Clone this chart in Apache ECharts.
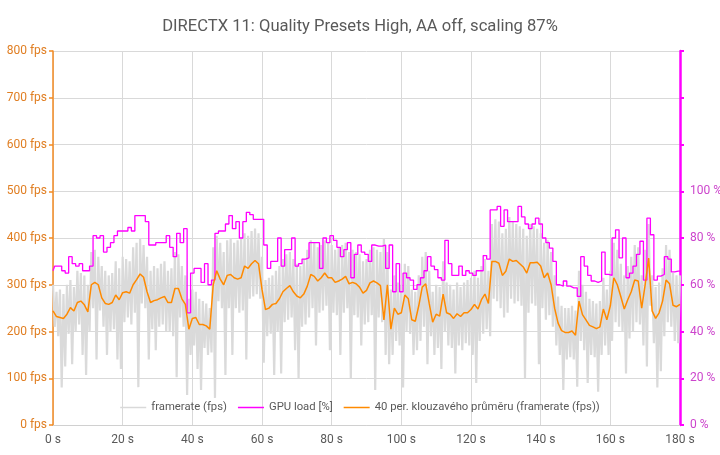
<!DOCTYPE html>
<html><head><meta charset="utf-8">
<script src="https://cdn.jsdelivr.net/npm/echarts@6/dist/echarts.min.js"></script>
<style>html,body{margin:0;padding:0;background:#fff}#c{width:720px;height:455px}</style>
</head><body><div id="c"></div>
<script>
const chartTitle = 'DIRECTX 11: Quality Presets High, AA off, scaling 87%';
const seriesNames = ['framerate (fps)', 'GPU load [%]', '40 per. klouzavého průměru (framerate (fps))'];
const xTickValues = [0, 20, 40, 60, 80, 100, 120, 140, 160, 180];
const fpsTicks = [0, 100, 200, 300, 400, 500, 600, 700, 800];
const gpuTicks = [0, 20, 40, 60, 80, 100];

// framerate samples every 0.5 s
const framerateStep = 0.5;
const framerate = [
300,210, 285,190, 290,80, 280,125, 300,195, 310,130, 295,200, 330,215, 325,150, 320,107,
300,200, 370,250, 375,140, 360,245, 340,210, 330,150, 320,200, 325,205, 350,140, 335,120,
360,220, 355,230, 350,215, 380,240, 390,81, 400,260, 385,250, 360,140, 330,205, 340,160,
335,210, 345,215, 350,200, 330,200, 335,190, 370,102, 365,230, 340,210, 320,64, 270,150,
290,170, 285,120, 270,75, 265,165, 260,150, 250,155, 380,58, 405,265, 390,250, 370,107,
395,250, 400,150, 390,250, 395,240, 400,245, 410,140, 405,270, 415,275, 420,280, 410,270,
360,133, 310,190, 315,195, 320,107, 330,200, 340,110, 355,220, 365,225, 370,230, 355,160,
345,100, 340,210, 355,215, 375,230, 395,250, 390,170, 380,240, 385,245, 395,255, 390,160,
385,240, 375,235, 380,150, 385,240, 390,250, 370,100, 375,235, 370,230, 365,170, 350,215,
355,220, 375,235, 380,75, 375,230, 370,220, 400,150, 370,130, 290,150, 320,180, 305,170,
300,80, 345,200, 340,195, 290,150, 285,160, 320,180, 360,210, 370,130, 330,190, 285,150,
300,165, 295,120, 350,200, 305,170, 300,165, 290,110, 305,170, 295,160, 305,175, 310,170,
315,150, 330,90, 315,180, 340,195, 355,205, 330,190, 430,270, 440,265, 435,250, 410,230,
420,240, 445,270, 435,260, 430,265, 425,255, 420,100, 405,240, 430,260, 425,255, 420,130,
410,250, 390,225, 395,235, 370,210, 320,170, 275,150, 255,75, 250,140, 250,145, 255,140,
245,82, 330,180, 300,160, 285,90, 270,150, 265,145, 260,71, 265,150, 315,170, 290,150,
330,180, 390,220, 375,210, 345,200, 320,110, 340,185, 360,200, 385,220, 380,215, 320,170,
375,125, 430,255, 320,175, 295,80, 305,115, 335,190, 385,220, 375,210, 325,180, 320,175,
320
];

// GPU load samples every 1 s (%)
const gpuStep = 1;
const gpuLoad = [
66,68,68,66,65,72,69,68,69,66,
66,68,81,80,81,74,76,78,81,83,
83,83,84.5,83,89.6,89.6,89.6,87,77,77,
78,78,78,81,76,72,82,78,84,48,
65,67,67,61,69,60,62,82,83,83,
86,89.6,84,87,80,87,91,90,88,88,
88,77,67,70,70,80,68,75,75,80,
68,69,71,71.5,78,78,78,67,80,78,
81,79,76,72,75,78,63,73,77,74,
73,70,77,76.5,76.5,77,67,77,57,69,
57,65,63,62,58,60,63,66,72,68,
66.5,63,62,79,69,64,64,68,64,66,
65,64,66,66,72.5,71,92,92,93.5,85,
92,87,87,87,93.5,89,86,84,86,88.5,
86,80,78,75.7,70,60,59.4,61.6,59.4,58.7,
58.7,55,72,68,64,61.6,61,61.6,74,64.4,
64,80,83.5,71.5,80,63,65,68,73,78.6,
62,88.5,81.4,62,63.7,64.4,72,71,65.5,65.8,
65.8
];

// 40-period moving average every 1 s (fps)
const maStep = 1;
const movingAvg = [
244,232,230,228,237,251,244,262,265,257,
242,300,305,300,272,260,258,262,278,268,
283,285,282,300,311,323,316,285,262,266,
268,272,275,262,262,292,292,270,258,205,
228,230,215,215,212,205,300,330,312,300,
320,322,315,312,315,340,335,345,352,345,
290,247,250,258,260,270,285,292,298,285,
276,272,280,297,322,318,308,315,325,315,
315,305,308,312,318,302,305,302,295,282,
288,304,308,304,298,225,300,205,250,237,
240,278,270,225,222,255,295,302,260,220,
237,233,280,240,237,228,238,232,240,240,
247,258,248,268,280,260,350,350,346,320,
329,355,350,352,345,338,325,347,347,348,
340,315,325,300,250,218,202,198,198,201,
192,265,236,225,213,210,206,210,248,225,
255,315,300,275,248,268,285,310,308,250,
300,357,244,228,240,265,310,302,256,253,
258
];

const FONT = "Roboto, 'Liberation Sans', sans-serif";
const toPairs = (arr, step) => arr.map((v, i) => [i * step, v]);

const chart = echarts.init(document.getElementById('c'), null, {renderer: 'canvas'});
chart.setOption({
  animation: false,
  backgroundColor: '#ffffff',
  textStyle: {fontFamily: FONT},
  title: {
    text: chartTitle, left: 'center', top: 13,
    textStyle: {fontFamily: FONT, fontSize: 16.6, fontWeight: 'normal', color: '#595959'}
  },
  grid: {left: 53, right: 40, top: 51, bottom: 30, containLabel: false, outerBoundsMode: 'none'},
  legend: {
    data: seriesNames, bottom: 37, left: 'center', icon: 'rect', itemWidth: 26, itemHeight: 1.5, itemGap: 11,
    textStyle: {fontFamily: FONT, fontSize: 11.3, color: '#595959'}
  },
  xAxis: {
    type: 'value', min: xTickValues[0], max: xTickValues[xTickValues.length - 1], interval: 20,
    axisLine: {lineStyle: {color: '#d0d0d0', width: 1}},
    axisTick: {show: false},
    axisLabel: {formatter: '{value} s', color: '#595959', fontSize: 12, margin: 9, fontFamily: FONT},
    splitLine: {show: true, lineStyle: {color: '#d9d9d9', width: 1}}
  },
  yAxis: [
    {
      type: 'value', min: fpsTicks[0], max: fpsTicks[fpsTicks.length - 1], interval: 100,
      axisLine: {show: true, lineStyle: {color: '#F28A22', width: 1.5}},
      axisTick: {show: true, length: 4, lineStyle: {color: '#F28A22', width: 1.5}},
      axisLabel: {formatter: '{value} fps', color: '#E07E22', fontSize: 12, margin: 6, fontFamily: FONT},
      splitLine: {show: true, lineStyle: {color: '#d9d9d9', width: 1}}
    },
    {
      type: 'value', min: 0, max: 160, interval: 20, position: 'right',
      axisLine: {show: true, lineStyle: {color: '#FF00FF', width: 2.5}},
      axisTick: {show: true, length: 4, lineStyle: {color: '#FF00FF', width: 2}},
      axisLabel: {
        formatter: v => (gpuTicks.indexOf(v) >= 0 ? v + ' %' : ''),
        color: '#CC44CC', fontSize: 12, margin: 10, fontFamily: FONT
      },
      splitLine: {show: false}
    }
  ],
  series: [
    {
      name: seriesNames[0], type: 'line', yAxisIndex: 0, data: toPairs(framerate, framerateStep),
      showSymbol: false, symbol: 'none', lineStyle: {color: '#dadada', width: 2.2}, itemStyle: {color: '#d9d9d9'}, z: 1
    },
    {
      name: seriesNames[1], type: 'line', yAxisIndex: 1, data: toPairs(gpuLoad, gpuStep), step: 'middle',
      showSymbol: false, symbol: 'none', lineStyle: {color: '#FF00FF', width: 1.3}, itemStyle: {color: '#FF00FF'}, z: 3
    },
    {
      name: seriesNames[2], type: 'line', yAxisIndex: 0, data: toPairs(movingAvg, maStep),
      showSymbol: false, symbol: 'none', lineStyle: {color: '#FF8A00', width: 1.5}, itemStyle: {color: '#FF8A00'}, z: 4
    }
  ]
});
</script>
</body></html>
